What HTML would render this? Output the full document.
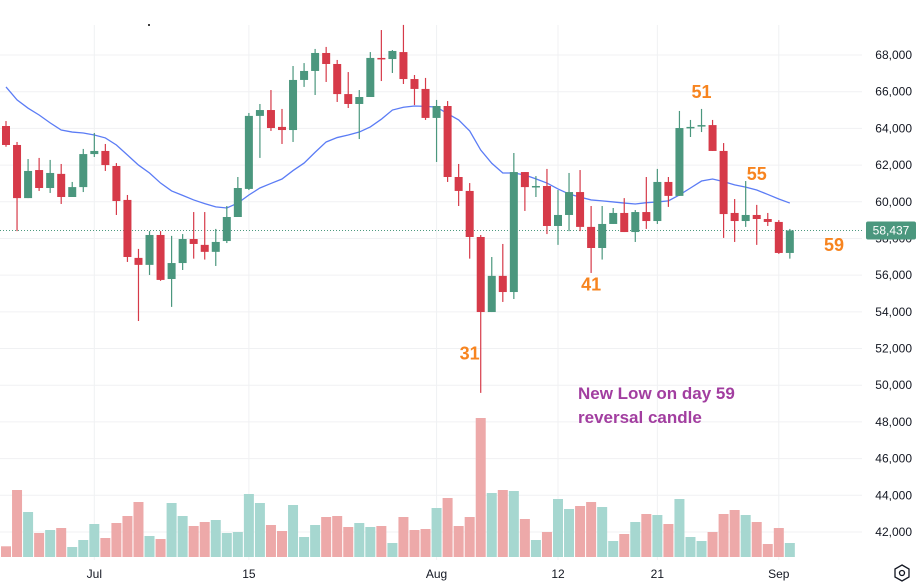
<!DOCTYPE html>
<html><head><meta charset="utf-8"><style>
html,body{margin:0;padding:0;background:#fff;}
#wrap{position:relative;width:920px;height:584px;overflow:hidden;font-family:"Liberation Sans",sans-serif;}
svg text{font-family:"Liberation Sans",sans-serif;}
</style></head><body>
<div id="wrap">
<svg id="chart" width="920" height="584"></svg>
</div>
<script>
const opens=[64130,63095,60200,61730,60750,61520,60260,60800,62600,62770,61950,60100,56940,56560,58190,55790,56660,57970,57650,57270,57860,59170,60700,64680,65000,64080,63910,66640,67130,68110,67510,65870,65330,65710,67840,67780,68160,66690,66150,64570,65220,61350,60590,58080,53990,55960,55080,61620,60800,60860,58680,59280,60530,58630,57480,58790,59390,58350,59440,58950,61080,60320,64020,64130,64180,62770,59390,58950,59280,59060,58900,57210];
const closes=[63095,60200,61680,60750,61570,60260,60800,62600,62770,62000,60040,56990,56560,58190,55740,56660,57970,57700,57270,57810,59170,60750,64680,65000,64020,63910,66640,67130,68110,67510,65870,65330,65710,67840,67780,68220,66690,66150,64570,65220,61350,60590,58080,53990,55960,55080,61620,60800,60860,58680,59280,60530,58630,57480,58790,59390,58350,59440,58950,61080,60320,64020,64080,64180,62770,59330,58950,59280,59060,58900,57210,58437];
const highs=[64400,63260,62330,62390,62280,62060,61080,62880,63750,63150,62110,60370,57430,58400,58400,58140,58240,59440,59440,58520,59770,61350,64840,65330,66090,65060,67400,67560,68330,68440,67730,67070,66090,68160,69360,68270,69640,66910,66750,65550,65490,62060,61020,58190,56990,57700,62660,61620,61400,61790,60640,61570,61730,59770,59770,59660,60200,59550,61350,61790,61350,64950,64460,65060,64460,63200,60150,61130,59830,59390,59000,58520];
const lows=[63000,58400,60200,60590,60480,59880,60260,60530,62440,61680,59280,56720,53500,56010,55690,54270,56280,56900,56850,56500,57750,59170,60640,62390,63860,63150,63260,66260,65820,66530,65440,65110,63420,65710,66580,67020,66420,65270,64460,62170,61080,59770,56900,49580,53990,54540,54700,59500,60260,58240,57650,58400,58400,56120,56850,58790,58350,57810,58520,58790,59720,60320,63530,63800,62770,58030,57810,58630,57650,58680,57160,56900];
const maValues=[66260,65550,65100,64730,64300,63910,63800,63750,63640,63480,63095,62550,62000,61570,61020,60590,60350,60100,59900,59720,59660,59930,60370,60750,61000,61240,61700,62110,62700,63260,63500,63640,63800,64080,64500,65000,65150,65220,65200,65160,64800,64460,63860,62820,62100,61570,61570,61460,61250,61020,60700,60420,60250,60100,60050,59990,59930,59880,59950,59990,60050,60370,60750,61130,61240,61100,60920,60800,60640,60400,60150,59930];
const volumes=[10.7,67,45,24,27,29,10,17,33,19,34,41,55,21,18,54,41,31,35,37,24,25,63,54,32,26,52,20,32,40,41,30,34,30,31,14,40,27,28,49,59,31,40,139,64,67,66,38,17,25,58,48,51,55,50,16,23,35,43,42,33,58,20,16,25,43,47,42,35,13,29,14];
const priceTicks=[68000,66000,64000,62000,60000,58000,56000,54000,52000,50000,48000,46000,44000,42000];
const dateLabels=["Jul","15","Aug","12","21","Sep"];
const dateIndex=[8,22,39,50,59,70];
const lastPrice=58437;
const annotations=[{t:"51",i:63,p:65650},{t:"55",i:68,p:61200},{t:"59",i:75,p:57330},{t:"41",i:53,p:55150},{t:"31",i:42,p:51400}];

const NS="http://www.w3.org/2000/svg";
const svg=document.getElementById('chart');
function y(p){return 55+(68000-p)*0.018346;}
function x(i){return 6+i*11.04;}
function vy(v){return 557-v;}
function mk(tag,attrs,parent){const e=document.createElementNS(NS,tag);for(const k in attrs)e.setAttribute(k,attrs[k]);(parent||svg).appendChild(e);return e;}

// grid
priceTicks.forEach(p=>{
  const g=mk('line',{x1:0,x2:862,y1:y(p),y2:y(p),stroke:'#f0f1f3','stroke-width':1});
  
  
  const t=mk('text',{x:912,y:y(p)+4,'text-anchor':'end','font-size':12,fill:'#131722'});
  t.textContent=p.toLocaleString('en-US');
  
  
});
dateIndex.forEach((di,k)=>{
  const g=mk('line',{x1:x(di),x2:x(di),y1:25,y2:560,stroke:'#f0f1f3','stroke-width':1});
  
  
  const t=mk('text',{x:x(di),y:578,'text-anchor':'middle','font-size':12,fill:'#131722'});
  t.textContent=dateLabels[k];
  
  
});
// volume
volumes.forEach((v,i)=>{
  const up=closes[i]>=opens[i];
  const r=mk('rect',{x:x(i)-5,y:vy(v),width:10,height:v,fill:up?'#a6d7d0':'#eda9a9'});
  
  
});
// last price line
const lp=mk('line',{x1:0,x2:862,y1:y(lastPrice),y2:y(lastPrice),stroke:'#4e9a80','stroke-width':1,'stroke-dasharray':'1,2'});


// MA
let d='';maValues.forEach((m,i)=>{d+=(i?'L':'M')+x(i)+','+y(m);});
const ma=mk('path',{d:d,fill:'none',stroke:'#5b7cf5','stroke-width':1.3});


// candles
opens.forEach((o,i)=>{
  const c=closes[i],up=c>=o,col=up?'#4b977e':'#d63a49';
  const g=mk('g',{});
  
  
  mk('line',{x1:x(i),x2:x(i),y1:y(highs[i]),y2:y(lows[i]),stroke:col,'stroke-width':1.2},g);
  const top=y(Math.max(o,c)),h=Math.max(1.5,Math.abs(y(o)-y(c)));
  mk('rect',{x:x(i)-4,y:top,width:8,height:h,fill:col},g);
});
// price label
const pl=mk('rect',{x:866,y:y(lastPrice)-9,width:50,height:18,fill:'#4b977e',rx:2});


const plt=mk('text',{x:891,y:y(lastPrice)+4,'text-anchor':'middle','font-size':12,fill:'#fff'});
plt.textContent=lastPrice.toLocaleString('en-US');


// annotations
annotations.forEach(a=>{
  const t=mk('text',{x:x(a.i),y:y(a.p),'text-anchor':'middle','font-size':18,'font-weight':'bold',fill:'#f7841f'});
  t.textContent=a.t;
  
  
});
const n1=mk('text',{x:578,y:399,'font-size':17,'font-weight':'bold',fill:'#a23ea0'});
n1.textContent='New Low on day 59';


const n2=mk('text',{x:578,y:423,'font-size':17,'font-weight':'bold',fill:'#a23ea0'});
n2.textContent='reversal candle';


// settings icon
const ic=mk('g',{});


mk('polygon',{points:'902,565 909,569 909,577 902,581 895,577 895,569',fill:'none',stroke:'#131722','stroke-width':1.3},ic);
mk('circle',{cx:902,cy:573,r:2.5,fill:'none',stroke:'#131722','stroke-width':1.3},ic);
const dot=mk('circle',{cx:149,cy:25,r:1,fill:'#000'});


</script>
</body></html>
